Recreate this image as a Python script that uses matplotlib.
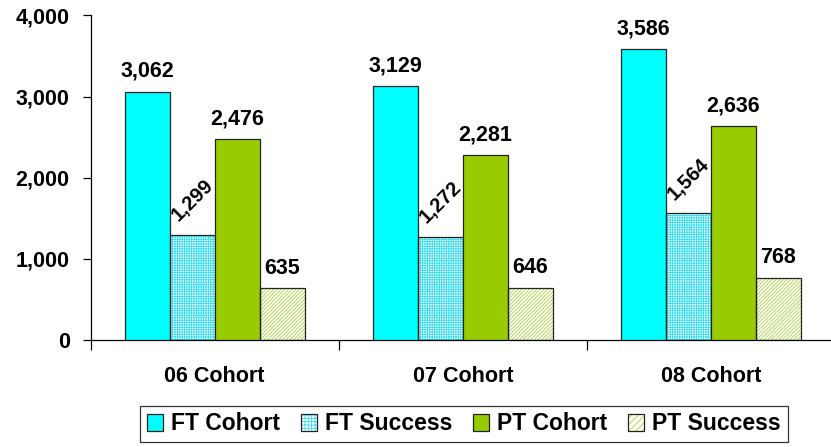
import matplotlib
matplotlib.use("Agg")
import matplotlib.pyplot as plt
import numpy as np
from matplotlib.patches import Patch

plt.rcParams['font.family'] = ['Liberation Sans', 'DejaVu Sans']
plt.rcParams['font.weight'] = 'bold'
plt.rcParams['hatch.linewidth'] = 0.6

categories = ["06 Cohort", "07 Cohort", "08 Cohort"]
series_names = ["FT Cohort", "FT Success", "PT Cohort", "PT Success"]
ft_cohort = [3062, 3129, 3586]
ft_success = [1299, 1272, 1564]
pt_cohort = [2476, 2281, 2636]
pt_success = [635, 646, 768]
yticks = [0, 1000, 2000, 3000, 4000]

series = [ft_cohort, ft_success, pt_cohort, pt_success]
faces = ['#00FFFF', 'white', '#99CC00', 'white']
hatches = [None, '+++++++', None, '/////////']
hatch_cols = [None, '#33DDEE', None, '#AAD040']
rotations = [0, 45, 0, 0]
FS = 15.5
fsizes = [FS, 14.5, FS, FS]

fig = plt.figure(figsize=(8.31, 4.47), dpi=100)
ax = fig.add_axes([0.109, 0.2394, 0.896, 0.726])

x = np.arange(len(categories))
w = 0.181
for i, vals in enumerate(series):
    pos = x + (i - 1.5) * w
    if hatches[i]:
        ax.bar(pos, vals, w, color=faces[i], hatch=hatches[i],
               edgecolor=hatch_cols[i], linewidth=0, zorder=2)
        ax.bar(pos, vals, w, fill=False, edgecolor='#222222', linewidth=0.9, zorder=3)
    else:
        ax.bar(pos, vals, w, color=faces[i], edgecolor='#222222', linewidth=0.9, zorder=3)
    for p, v in zip(pos, vals):
        ax.annotate(f"{v:,}", (p, v), xytext=(0, 7), textcoords='offset points',
                    ha='center', va='bottom', rotation=rotations[i],
                    fontsize=fsizes[i], fontweight='bold', color='black')

ax.set_ylim(0, 4000)
ax.set_xlim(-0.5, 2.5)
ax.set_yticks(yticks)
ax.set_yticklabels([f"{t:,}" for t in yticks], fontsize=FS, fontweight='bold')
ax.set_xticks([-0.5, 0.5, 1.5, 2.5])
ax.set_xticklabels([])
ax.set_xticks(x, minor=True)
ax.set_xticklabels(categories, minor=True, fontsize=FS, fontweight='bold')
ax.tick_params(axis='x', which='minor', length=0, pad=19)
ax.tick_params(axis='x', which='major', length=7, width=0.9, direction='out')
ax.tick_params(axis='y', length=6, width=0.9, pad=9)
for s in ['top', 'right']:
    ax.spines[s].set_visible(False)
for s in ['left', 'bottom']:
    ax.spines[s].set_linewidth(0.9)

handles = []
for i in range(4):
    if hatches[i]:
        handles.append((Patch(facecolor=faces[i], hatch=hatches[i][:5], edgecolor=hatch_cols[i], linewidth=0),
                        Patch(fill=False, edgecolor='#222222', linewidth=0.9)))
    else:
        handles.append(Patch(facecolor=faces[i], edgecolor='#222222', linewidth=0.9))
leg = fig.legend(handles=handles, labels=series_names, loc='center',
                 bbox_to_anchor=(464/831, 1 - 424/447),
                 ncol=4, frameon=True, fancybox=False, edgecolor='black',
                 prop={'size': 16.5, 'weight': 'bold'}, handlelength=0.7, handleheight=0.7,
                 handletextpad=0.35, columnspacing=0.9, borderpad=0.3, borderaxespad=0)
leg.get_frame().set_linewidth(0.9)

fig.savefig('out.png', dpi=100)
